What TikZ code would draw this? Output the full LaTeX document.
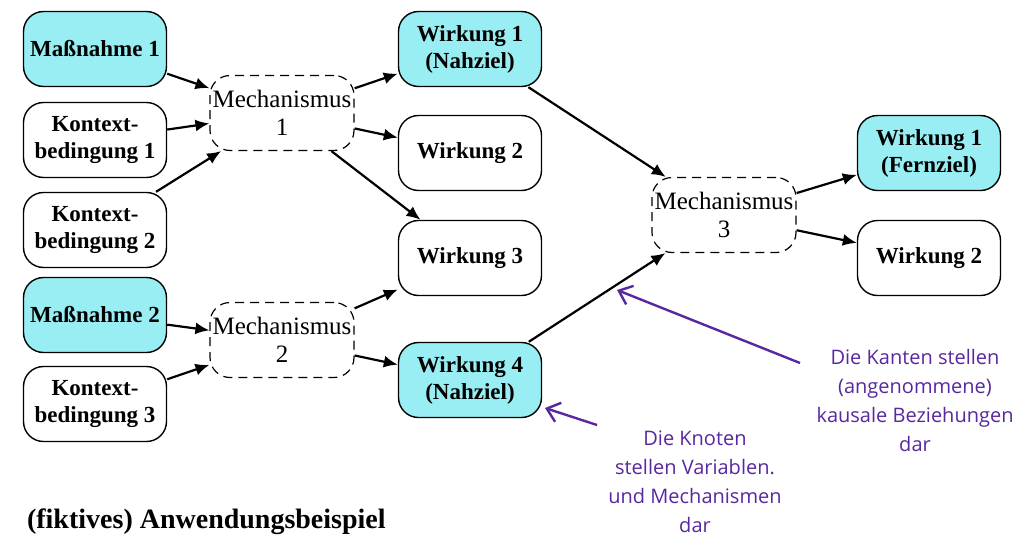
\documentclass[tikz,border=0pt]{standalone}
\usepackage{fontspec}
\setmainfont{Liberation Serif}
\newfontfamily\notefont{Open Sans}
\usetikzlibrary{arrows.meta}

\definecolor{goalcyan}{RGB}{152,238,242}
\definecolor{notepurple}{RGB}{88,40,158}

\tikzset{
	box/.style={draw,line width=0.7pt,rounded corners=10pt,minimum width=71.5pt,minimum height=37.5pt,
		align=center,inner sep=1pt,font=\fontsize{11.5}{13.5}\selectfont\bfseries},
	goalbox/.style={box,fill=goalcyan},
	mechbox/.style={draw,dash pattern=on 4.5pt off 3pt,line width=0.6pt,rounded corners=10pt,
		minimum width=72pt,minimum height=37.5pt,
		align=center,inner sep=0pt,font=\fontsize{12.5}{14}\selectfont},
	link/.style={-{Latex[length=7pt,width=6pt]},line width=1.1pt},
	note/.style={text=notepurple,align=center,font=\notefont\fontsize{10}{14.5}\selectfont},
	notelink/.style={-{Straight Barb[length=6pt,width=10pt]},notepurple,line width=1.2pt}
}

\begin{document}
\begin{tikzpicture}[x=0.5pt,y=-0.5pt]
	\useasboundingbox (0,0) rectangle (1020,535);

	%left column
	\node[goalbox] (mass1) at (95,49) {Maßnahme 1};
	\node[box] (kon1) at (95,140) {Kontext-\\bedingung 1};
	\node[box] (kon2) at (95,230) {Kontext-\\bedingung 2};
	\node[goalbox] (mass2) at (95,315) {Maßnahme 2};
	\node[box] (kon3) at (95,404) {Kontext-\\bedingung 3};

	%mechanisms
	\node[mechbox] (mech1) at (282,113) {Mechanismus\\1};
	\node[mechbox] (mech2) at (282,340) {Mechanismus\\2};
	\node[mechbox] (mech3) at (724,215) {Mechanismus\\3};

	%effects
	\node[goalbox] (wirk1) at (470,49) {Wirkung 1\\(Nahziel)};
	\node[box] (wirk2) at (470,153) {Wirkung 2};
	\node[box] (wirk3) at (470,258) {Wirkung 3};
	\node[goalbox] (wirk4) at (470,380) {Wirkung 4\\(Nahziel)};
	%
	\node[goalbox] (fern1) at (929,153) {Wirkung 1\\(Fernziel)};
	\node[box] (fern2) at (929,258) {Wirkung 2};

	%arrows
	\draw[link] (mass1) -- (mech1);
	\draw[link] (kon1) -- (mech1);
	\draw[link] (kon2) -- (mech1);
	\draw[link] (mech1) -- (wirk1);
	\draw[link] (mech1) -- (wirk2);
	\draw[link] (mech1) -- (wirk3);
	%
	\draw[link] (mass2) -- (mech2);
	\draw[link] (kon3) -- (mech2);
	\draw[link] (mech2) -- (wirk3);
	\draw[link] (mech2) -- (wirk4);
	%
	\draw[link] (wirk1) -- (mech3);
	\draw[link] (wirk4) -- (mech3);
	\draw[link] (mech3) -- (fern1);
	\draw[link] (mech3) -- (fern2);

	%notes
	\node[note] (kanten) at (915,400) {Die Kanten stellen\\(angenommene)\\kausale Beziehungen\\dar};
	\coordinate (kantentip) at (617,290);
	\draw[notelink] (800,363) coordinate (kantenstart) -- (kantentip);
	%
	\node[note] (knoten) at (695,482) {Die Knoten\\stellen Variablen.\\und Mechanismen\\dar};
	\coordinate (knotentip) at (545,408);
	\draw[notelink] (597,425) coordinate (knotenstart) -- (knotentip);

	%caption
	\node[anchor=base west,font=\fontsize{14}{16}\selectfont\bfseries] (caption) at (20,528) {(fiktives) Anwendungsbeispiel};
\end{tikzpicture}
\end{document}
